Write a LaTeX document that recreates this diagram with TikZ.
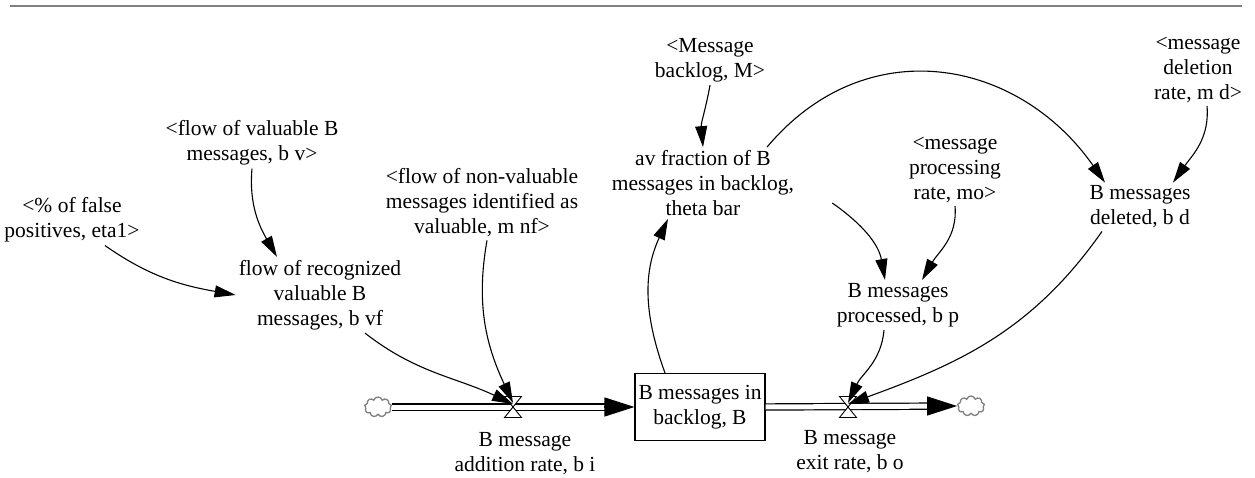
\documentclass[tikz,border=0pt]{standalone}
\usepackage{fontspec}
\setmainfont{Liberation Serif}
\usetikzlibrary{positioning, arrows.meta, shapes.symbols}

\begin{document}
\begin{tikzpicture}[
        x=1pt, y=1pt,
        var/.style={align=center, inner sep=3pt, font=\fontsize{21.5}{25}\selectfont},
        stock/.style={var, rectangle, draw, line width=1.1pt, minimum width=130pt, minimum height=67pt},
        source/.style={cloud, cloud puffs=9, cloud ignores aspect, draw=gray, line width=1.3pt, minimum width=27pt, minimum height=20pt, inner sep=0pt},
        link/.style={-{Triangle[length=21pt, width=12pt]}, line width=1.1pt},
        pipe/.style={double, double distance=5pt, line width=1.2pt, shorten >=28pt},
        pipehead/.style={-{Triangle[length=30pt, width=19pt]}, line width=1.2pt},
        valve/.pic={\draw[fill=white, line width=0.9pt] (-8.5,10.5) -- (8.5,10.5) -- (-8.5,-10.5) -- (8.5,-10.5) -- cycle;}
      ]
        \useasboundingbox (0,0) rectangle (1255,-478);
        \draw[gray, line width=2pt] (10,-6) -- (1242,-6);

        % Stock and flows
        \node[stock] (stock) at (700,-407) {B messages in\\backlog, B};
        \node[source] (src) at (378,-407) {};
        \node[source] (sink) at (971,-406) {};
        \coordinate (vin) at (513,-407);
        \coordinate (vout) at (848,-407);
        \node[var] (bi) at (525,-454) {B message\\addition rate, b i};
        \node[var] (bo) at (850,-452) {B message\\exit rate, b o};

        % Auxiliaries
        \node[var] (eta) at (72,-220) {<\% of false\\positives, eta1>};
        \node[var] (bv) at (252,-143) {<flow of valuable B\\messages, b v>};
        \node[var] (bvf) at (320,-295) {flow of recognized\\valuable B\\messages, b vf};
        \node[var] (mnf) at (482,-203) {<flow of non-valuable\\messages identified as\\valuable, m nf>};
        \node[var] (M) at (710,-60) {<Message\\backlog, M>};
        \node[var] (theta) at (703,-183) {av fraction of B\\messages in backlog,\\theta bar};
        \node[var] (mo) at (955,-170) {<message\\processing\\rate, mo>};
        \node[var] (md) at (1198,-70) {<message\\deletion\\rate, m d>};
        \node[var] (bd) at (1140,-207) {B messages\\deleted, b d};
        \node[var] (bp) at (898,-305) {B messages\\processed, b p};

        % Pipes
        \draw[pipe] (src.east) -- (stock.west);
        \draw[pipehead] ([xshift=-30pt]stock.west) -- (stock.west);
        \draw[pipe] (stock.east) -- (sink.west);
        \draw[pipehead] ([xshift=-30pt]sink.west) -- (sink.west);
        \pic at (vin) {valve};
        \pic at (vout) {valve};

        % Links
        \draw[link] ([xshift=33pt]eta.south) to[out=-35, in=170] (bvf.west);
        \draw[link] (bv.south) to[out=-95, in=120] ([xshift=-43pt]bvf.north);
        \draw[link] ([xshift=45pt]bvf.south) to[out=-38, in=155] ([yshift=3pt]vin);
        \draw[link] ([xshift=5pt]mnf.south) to[out=-100, in=115] ([yshift=4pt]vin);
        \draw[link] ([xshift=-35pt]stock.north) to[out=110, in=-115] ([xshift=-35pt]theta.south);
        \draw[link] (M.south) to[out=-100, in=95] (theta.north);
        \draw[link] ([xshift=64pt]theta.north) to[out=50, in=125, looseness=1.15] ([xshift=-35pt]bd.north);
        \draw[link] ([xshift=9pt]md.south) to[out=-85, in=55] ([xshift=33pt]bd.north);
        \draw[link] ([shift={(35pt,-20pt)}]theta.east) to[out=-35, in=100] ([xshift=-13pt]bp.north);
        \draw[link] (mo.south) to[out=-85, in=60] ([xshift=24pt]bp.north);
        \draw[link] ([xshift=-14pt]bp.south) to[out=-95, in=65] ([yshift=4pt]vout);
        \draw[link] ([xshift=-38pt]bd.south) to[out=-125, in=20] ([yshift=3pt]vout);
      \end{tikzpicture}
\end{document}
